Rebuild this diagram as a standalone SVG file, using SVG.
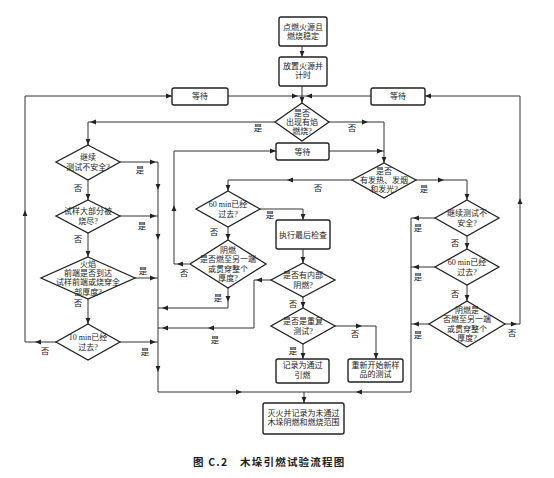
<svg xmlns="http://www.w3.org/2000/svg" xmlns:xlink="http://www.w3.org/1999/xlink" width="554" height="478" viewBox="0 0 554 478">
<style>
.bx{fill:#fff;stroke:#222;stroke-width:1.4}
.dm{fill:#fff;stroke:#222;stroke-width:1.3}
.ln{fill:none;stroke:#333;stroke-width:1}
.t{font-family:"Liberation Serif","Noto Sans CJK SC",serif;font-size:8px;fill:#222;text-anchor:middle}
.lb{font-family:"Liberation Serif","Noto Sans CJK SC",serif;font-size:8.5px;fill:#222;text-anchor:middle}
.cap{font-family:"Noto Sans CJK SC",sans-serif;font-size:10.5px;fill:#222;font-weight:bold;letter-spacing:1.2px}
</style>
<defs>
<path id="ah" d="M0,0 L-6,-2.4 L-6,2.4 Z" fill="#222"/>
</defs>
<rect width="554" height="478" fill="#fff"/>

<g id="connectors">
<path class="ln" d="M302,46 V57"/>
<path class="ln" d="M302,86 V103"/>
<path class="ln" d="M56,342 H25 V96 H172"/>
<path class="ln" d="M228,96 H302"/>
<path class="ln" d="M505,324 H520 V96 H425"/>
<path class="ln" d="M371,96 H302"/>
<path class="ln" d="M275,122 H88 V145"/>
<path class="ln" d="M329,122 H384 V163"/>
<path class="ln" d="M189,264 H174 V151 H276"/>
<path class="ln" d="M329,151 H384"/>
<path class="ln" d="M352,180 H228 V191"/>
<path class="ln" d="M260,209 H303 V220"/>
<path class="ln" d="M228,227 V240"/>
<path class="ln" d="M228,288 V308 H158"/>
<path class="ln" d="M303,249 V263"/>
<path class="ln" d="M271,280 H254 V328 H158"/>
<path class="ln" d="M303,297 V308"/>
<path class="ln" d="M303,344 V359"/>
<path class="ln" d="M335,326 H376 V359"/>
<path class="ln" d="M416,180 H467 V200"/>
<path class="ln" d="M467,236 V249"/>
<path class="ln" d="M467,285 V301"/>
<path class="ln" d="M435,218 H411 V392 H304"/>
<path class="ln" d="M435,267 H411"/>
<path class="ln" d="M429,324 H411"/>
<path class="ln" d="M120,162 H158 V392 H304"/>
<path class="ln" d="M120,216 H158"/>
<path class="ln" d="M135,278 H158"/>
<path class="ln" d="M120,342 H158"/>
<path class="ln" d="M88,180 V200"/>
<path class="ln" d="M88,233 V257"/>
<path class="ln" d="M88,299 V324"/>
<path class="ln" d="M304,392 V403"/>
<use xlink:href="#ah" transform="translate(302,57) rotate(90)"/>
<use xlink:href="#ah" transform="translate(302,103) rotate(90)"/>
<use xlink:href="#ah" transform="translate(35,342) rotate(180)"/>
<use xlink:href="#ah" transform="translate(25,210) rotate(-90)"/>
<use xlink:href="#ah" transform="translate(172,96)"/>
<use xlink:href="#ah" transform="translate(298,96)"/>
<use xlink:href="#ah" transform="translate(517,324)"/>
<use xlink:href="#ah" transform="translate(520,198) rotate(-90)"/>
<use xlink:href="#ah" transform="translate(425,96) rotate(180)"/>
<use xlink:href="#ah" transform="translate(306,96) rotate(180)"/>
<use xlink:href="#ah" transform="translate(90,122) rotate(180)"/>
<use xlink:href="#ah" transform="translate(88,145) rotate(90)"/>
<use xlink:href="#ah" transform="translate(368,122)"/>
<use xlink:href="#ah" transform="translate(384,163) rotate(90)"/>
<use xlink:href="#ah" transform="translate(177,264) rotate(180)"/>
<use xlink:href="#ah" transform="translate(174,205) rotate(-90)"/>
<use xlink:href="#ah" transform="translate(276,151)"/>
<use xlink:href="#ah" transform="translate(383,151)"/>
<use xlink:href="#ah" transform="translate(287,180) rotate(180)"/>
<use xlink:href="#ah" transform="translate(228,191) rotate(90)"/>
<use xlink:href="#ah" transform="translate(303,220) rotate(90)"/>
<use xlink:href="#ah" transform="translate(228,240) rotate(90)"/>
<use xlink:href="#ah" transform="translate(228,302) rotate(90)"/>
<use xlink:href="#ah" transform="translate(162,308) rotate(180)"/>
<use xlink:href="#ah" transform="translate(303,263) rotate(90)"/>
<use xlink:href="#ah" transform="translate(256,280) rotate(180)"/>
<use xlink:href="#ah" transform="translate(208,328) rotate(180)"/>
<use xlink:href="#ah" transform="translate(162,328) rotate(180)"/>
<use xlink:href="#ah" transform="translate(303,308) rotate(90)"/>
<use xlink:href="#ah" transform="translate(303,359) rotate(90)"/>
<use xlink:href="#ah" transform="translate(362,326)"/>
<use xlink:href="#ah" transform="translate(376,359) rotate(90)"/>
<use xlink:href="#ah" transform="translate(444,180)"/>
<use xlink:href="#ah" transform="translate(467,200) rotate(90)"/>
<use xlink:href="#ah" transform="translate(467,249) rotate(90)"/>
<use xlink:href="#ah" transform="translate(467,301) rotate(90)"/>
<use xlink:href="#ah" transform="translate(413,218) rotate(180)"/>
<use xlink:href="#ah" transform="translate(413,267) rotate(180)"/>
<use xlink:href="#ah" transform="translate(413,324) rotate(180)"/>
<use xlink:href="#ah" transform="translate(356,392) rotate(180)"/>
<use xlink:href="#ah" transform="translate(156,162)"/>
<use xlink:href="#ah" transform="translate(156,216)"/>
<use xlink:href="#ah" transform="translate(156,278)"/>
<use xlink:href="#ah" transform="translate(156,342)"/>
<use xlink:href="#ah" transform="translate(158,190) rotate(90)"/>
<use xlink:href="#ah" transform="translate(158,240) rotate(90)"/>
<use xlink:href="#ah" transform="translate(158,372) rotate(90)"/>
<use xlink:href="#ah" transform="translate(242,392)"/>
<use xlink:href="#ah" transform="translate(88,200) rotate(90)"/>
<use xlink:href="#ah" transform="translate(88,257) rotate(90)"/>
<use xlink:href="#ah" transform="translate(88,324) rotate(90)"/>
<use xlink:href="#ah" transform="translate(304,403) rotate(90)"/>
<text class="lb" x="258" y="131">是</text>
<text class="lb" x="352" y="131">否</text>
<text class="lb" x="318" y="191">否</text>
<text class="lb" x="424" y="192">是</text>
<text class="lb" x="270" y="218">是</text>
<text class="lb" x="214" y="235">否</text>
<text class="lb" x="184" y="276">否</text>
<text class="lb" x="218" y="301">是</text>
<text class="lb" x="215" y="343">是</text>
<text class="lb" x="293" y="307">否</text>
<text class="lb" x="293" y="354">是</text>
<text class="lb" x="355" y="337">否</text>
<text class="lb" x="418" y="231">是</text>
<text class="lb" x="455" y="246">否</text>
<text class="lb" x="418" y="280">是</text>
<text class="lb" x="455" y="297">否</text>
<text class="lb" x="418" y="338">是</text>
<text class="lb" x="512" y="336">否</text>
<text class="lb" x="140" y="173">是</text>
<text class="lb" x="78" y="191">否</text>
<text class="lb" x="142" y="229">是</text>
<text class="lb" x="78" y="242">否</text>
<text class="lb" x="143" y="274">是</text>
<text class="lb" x="78" y="306">否</text>
<text class="lb" x="45" y="354">否</text>
<text class="lb" x="145" y="355">是</text>
</g>

<g id="n-start"><rect class="bx" x="279" y="17" width="48" height="29" rx="2"/><text class="t" x="303" y="30">点燃火源且<tspan x="303" dy="9.2">燃烧稳定</tspan></text></g>
<g id="n-place"><rect class="bx" x="279" y="57" width="48" height="29" rx="2"/><text class="t" x="303" y="69">放置火源并<tspan x="303" dy="9.2">计时</tspan></text></g>
<g id="n-wait-l"><rect class="bx" x="172" y="88" width="56" height="17" rx="2"/><text class="t" x="200" y="99">等待</text></g>
<g id="n-wait-r"><rect class="bx" x="371" y="88" width="54" height="17" rx="2"/><text class="t" x="398" y="99">等待</text></g>
<g id="n-wait-m"><rect class="bx" x="276" y="143" width="53" height="17" rx="2"/><text class="t" x="302.5" y="154.5">等待</text></g>
<g id="d-flame"><polygon class="dm" points="302,103 329,122 302,141 275,122"/><text class="t" x="302" y="116">是否<tspan x="302" dy="9.2">出现有焰</tspan><tspan x="302" dy="9.2">燃烧?</tspan></text></g>
<g id="d-l1"><polygon class="dm" points="88,145 120,162 88,180 56,162"/><text class="t" x="88" y="160.4">继续<tspan x="88" dy="9.2">测试不安全?</tspan></text></g>
<g id="d-l2"><polygon class="dm" points="88,200 120,216 88,233 56,216"/><text class="t" x="88" y="214.4">试样大部分被<tspan x="88" dy="9.2">烧尽?</tspan></text></g>
<g id="d-l3"><polygon class="dm" points="88,257 135,278 88,299 41,278"/><text class="t" x="88" y="267">火焰<tspan x="88" dy="9.2">前端是否到达</tspan><tspan x="88" dy="9.2">试样前端或烧穿全</tspan><tspan x="88" dy="9.2">部厚度?</tspan></text></g>
<g id="d-l4"><polygon class="dm" points="88,324 120,342 88,360 56,342"/><text class="t" x="88" y="340.4">10 min已经<tspan x="88" dy="9.2">过去?</tspan></text></g>
<g id="d-m0"><polygon class="dm" points="384,163 416,180 384,198 352,180"/><text class="t" x="384" y="173.8">是否<tspan x="384" dy="9.2">有发热、发烟</tspan><tspan x="384" dy="9.2">和发光?</tspan></text></g>
<g id="d-m1"><polygon class="dm" points="228,191 260,209 228,227 196,209"/><text class="t" x="228" y="207.4">60 min已经<tspan x="228" dy="9.2">过去?</tspan></text></g>
<g id="d-m2"><polygon class="dm" points="228,240 266,264 228,288 190,264"/><text class="t" x="228" y="253.2">阴燃<tspan x="228" dy="9.2">是否燃至另一端</tspan><tspan x="228" dy="9.2">或贯穿整个</tspan><tspan x="228" dy="9.2">厚度?</tspan></text></g>
<g id="n-final"><rect class="bx" x="276" y="220" width="54" height="29" rx="2"/><text class="t" x="303" y="237.5">执行最后检查</text></g>
<g id="d-internal"><polygon class="dm" points="303,263 335,280 303,297 271,280"/><text class="t" x="303" y="278.4">是否有内部<tspan x="303" dy="9.2">阴燃?</tspan></text></g>
<g id="d-repeat"><polygon class="dm" points="303,308 335,326 303,344 271,326"/><text class="t" x="303" y="324.4">是否是重复<tspan x="303" dy="9.2">测试?</tspan></text></g>
<g id="n-pass"><rect class="bx" x="276" y="359" width="53" height="24" rx="2"/><text class="t" x="302.5" y="368.4">记录为通过<tspan x="302.5" dy="9.2">引燃</tspan></text></g>
<g id="n-restart"><rect class="bx" x="348" y="359" width="55" height="23" rx="2"/><text class="t" x="375.5" y="368">重新开始新样<tspan x="375.5" dy="9.2">品的测试</tspan></text></g>
<g id="d-r1"><polygon class="dm" points="467,200 499,218 467,236 435,218"/><text class="t" x="467" y="216.4">继续测试不<tspan x="467" dy="9.2">安全?</tspan></text></g>
<g id="d-r2"><polygon class="dm" points="467,249 499,267 467,285 435,267"/><text class="t" x="467" y="265.4">60 min已经<tspan x="467" dy="9.2">过去?</tspan></text></g>
<g id="d-r3"><polygon class="dm" points="467,301 505,324 467,347 429,324"/><text class="t" x="467" y="313.2">阴燃是<tspan x="467" dy="9.2">否燃至另一端</tspan><tspan x="467" dy="9.2">或贯穿整个</tspan><tspan x="467" dy="9.2">厚度?</tspan></text></g>
<g id="n-fail"><rect class="bx" x="263" y="403" width="81" height="31" rx="2"/><text class="t" x="303.5" y="416">灭火并记录为未通过<tspan x="303.5" dy="9.2">木垛阴燃和燃烧范围</tspan></text></g>

<text class="cap" x="193" y="466">图 C.2　木垛引燃试验流程图</text>
</svg>
